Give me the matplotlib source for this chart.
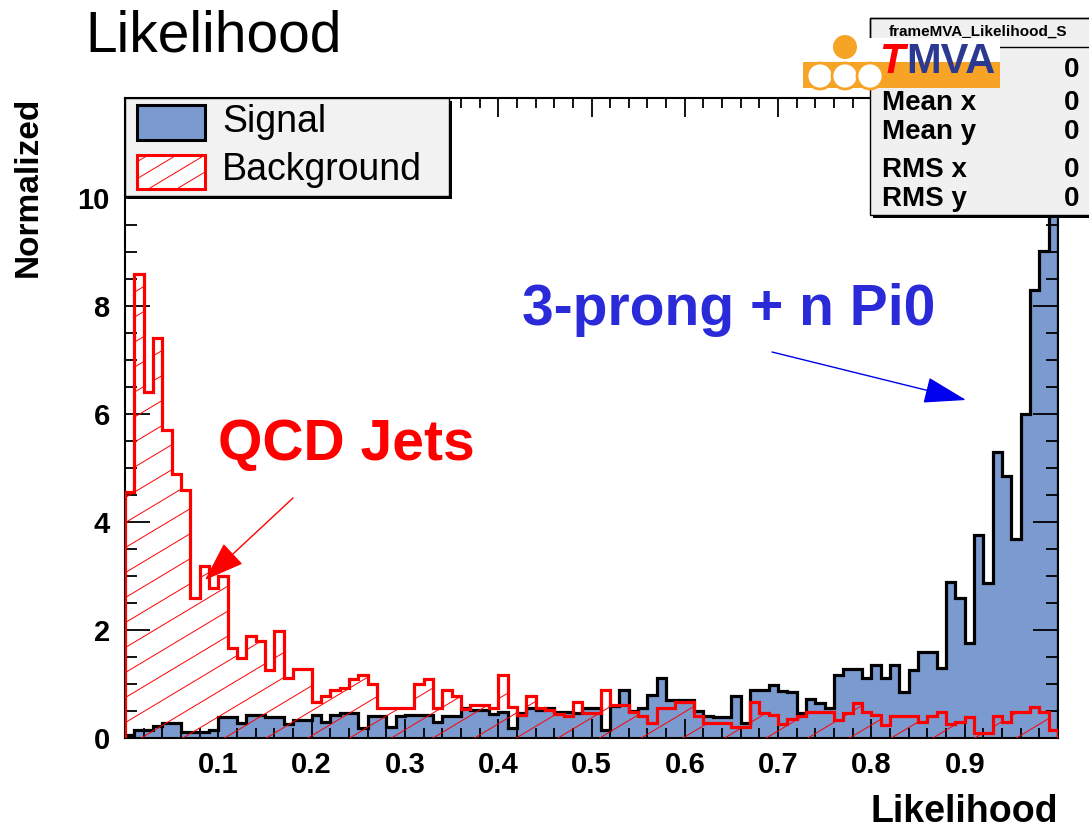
import numpy as np
import matplotlib
matplotlib.use("Agg")
import matplotlib.pyplot as plt
from matplotlib.patches import Rectangle, Circle
from matplotlib.lines import Line2D
from matplotlib.transforms import IdentityTransform
from matplotlib.ticker import MultipleLocator, FixedLocator

# ---------------- data ----------------
bin_edges = np.linspace(0.0, 1.0, 101)

signal = [0.05, 0.15, 0.15, 0.22, 0.27, 0.27, 0.12, 0.12, 0.12, 0.15,
          0.38, 0.38, 0.27, 0.43, 0.43, 0.38, 0.38, 0.25, 0.33, 0.33,
          0.43, 0.30, 0.43, 0.46, 0.46, 0.18, 0.40, 0.40, 0.20, 0.40,
          0.43, 0.43, 0.43, 0.30, 0.40, 0.40, 0.55, 0.52, 0.52, 0.45,
          0.49, 0.18, 0.46, 0.55, 0.52, 0.55, 0.49, 0.49, 0.46, 0.55,
          0.55, 0.15, 0.60, 0.89, 0.50, 0.55, 0.80, 1.11, 0.70, 0.70,
          0.70, 0.50, 0.40, 0.38, 0.38, 0.78, 0.27, 0.89, 0.89, 0.98,
          0.87, 0.85, 0.46, 0.73, 0.65, 0.56, 1.17, 1.27, 1.27, 1.11,
          1.35, 1.11, 1.35, 0.86, 1.26, 1.60, 1.60, 1.29, 2.88, 2.59,
          1.76, 3.75, 2.87, 5.30, 4.86, 3.69, 5.99, 8.30, 9.02, 10.6]

background = [4.55, 8.59, 6.40, 7.41, 5.70, 4.88, 4.60, 2.59, 3.19, 2.78,
              3.00, 1.66, 1.48, 1.88, 1.79, 1.25, 1.98, 1.11, 1.27, 1.27,
              0.66, 0.77, 0.89, 0.92, 1.09, 1.17, 1.00, 0.55, 0.55, 0.55,
              0.55, 1.00, 1.09, 0.55, 0.88, 0.77, 0.53, 0.62, 0.62, 0.55,
              1.17, 0.58, 0.42, 0.77, 0.55, 0.52, 0.45, 0.40, 0.66, 0.46,
              0.46, 0.88, 0.62, 0.62, 0.49, 0.40, 0.27, 0.55, 0.55, 0.67,
              0.67, 0.40, 0.27, 0.27, 0.27, 0.21, 0.21, 0.67, 0.46, 0.43,
              0.26, 0.36, 0.40, 0.49, 0.49, 0.49, 0.33, 0.46, 0.65, 0.49,
              0.43, 0.24, 0.40, 0.40, 0.40, 0.30, 0.40, 0.49, 0.26, 0.30,
              0.39, 0.09, 0.09, 0.40, 0.30, 0.49, 0.49, 0.58, 0.49, 0.15]

x_major_ticks = [0.1, 0.2, 0.3, 0.4, 0.5, 0.6, 0.7, 0.8, 0.9]
x_tick_labels = ["0.1", "0.2", "0.3", "0.4", "0.5", "0.6", "0.7", "0.8", "0.9"]
y_major_ticks = [0, 2, 4, 6, 8, 10]

stats_labels = ["", "Mean x", "Mean y", "RMS x", "RMS y"]
stats_values = ["0", "0", "0", "0", "0"]

# ---------------- style ----------------
W, H = 1089, 830
plt.rcParams['font.family'] = ['Liberation Sans', 'DejaVu Sans']

SIG_FILL = '#7a9ad0'
RED = '#ff0000'
BLUE_TXT = '#2a2ad8'
ORANGE = '#f7a325'


def fx(x):
    return x / W


def fy(y):
    return 1 - y / H


def prect(x0, y0, x1, y1, **kw):
    return Rectangle((x0, H - y1), x1 - x0, y1 - y0, transform=IdentityTransform(), **kw)


def hatch_lines(target, clip_patch, x0, x1, y_top, y_bot, spacing, slope, lw, zorder):
    """ROOT-like diagonal hatching (pixel coords), clipped to a patch."""
    ylo, yhi = H - y_bot, H - y_top
    c = ylo - slope * x1 - spacing
    while c < yhi + spacing:
        ln = Line2D([x0, x1], [slope * x0 + c, slope * x1 + c], color=RED,
                    linewidth=lw, transform=IdentityTransform(), zorder=zorder)
        ln.set_clip_path(clip_patch)
        target.add_artist(ln)
        c += spacing


fig = plt.figure(figsize=(W / 100, H / 100), dpi=100)
fig.patch.set_facecolor('white')
ax = fig.add_axes([fx(125), fy(738), 933 / W, 640 / H])

# histograms
ax.stairs(signal, bin_edges, fill=True, facecolor=SIG_FILL, edgecolor='none', zorder=1)
ax.stairs(signal, bin_edges, baseline=0, color='black', linewidth=2.3, zorder=2)
bg_area = ax.stairs(background, bin_edges, fill=True, facecolor='none',
                    edgecolor='none', linewidth=0, zorder=3)
ax.stairs(background, bin_edges, baseline=0, color=RED, linewidth=2.3, zorder=4)

ax.set_xlim(0, 1)
ax.set_ylim(0, 11.85)

ax.xaxis.set_major_locator(FixedLocator(x_major_ticks))
ax.set_xticklabels(x_tick_labels)
ax.xaxis.set_minor_locator(MultipleLocator(0.02))
ax.yaxis.set_major_locator(FixedLocator(y_major_ticks))
ax.yaxis.set_minor_locator(MultipleLocator(0.5))

ax.tick_params(axis='both', which='both', direction='in', top=True, right=True, width=1.3)
ax.tick_params(axis='x', which='major', length=14, pad=9)
ax.tick_params(axis='x', which='minor', length=7)
ax.tick_params(axis='y', which='major', length=18, pad=11)
ax.tick_params(axis='y', which='minor', length=8.5)
for lab in ax.get_xticklabels() + ax.get_yticklabels():
    lab.set_fontweight('bold')
    lab.set_fontsize(21)
for sp in ax.spines.values():
    sp.set_linewidth(1.5)

# hatching of the background histogram
hatch_lines(ax, bg_area, 125, 1058, 98, 738, 25, 0.6, 0.7, 3.5)

# axis titles
fig.text(fx(28), fy(97), 'Normalized', rotation=90, ha='center', va='top',
         fontsize=24, fontweight='bold')
fig.text(fx(1058), fy(812), 'Likelihood', ha='right', va='center',
         fontsize=27, fontweight='bold')
fig.text(fx(85), fy(36), 'Likelihood', ha='left', va='center', fontsize=41)

# legend box
fig.add_artist(prect(128, 101, 452, 199, facecolor='black', edgecolor='none', zorder=5))
fig.add_artist(prect(125, 98, 449, 196, facecolor='#f2f2f2', edgecolor='black',
                     linewidth=1.0, zorder=6))
fig.add_artist(prect(137, 105, 205, 140, facecolor=SIG_FILL, edgecolor='black',
                     linewidth=2.2, zorder=7))
leg_bg = prect(137, 155, 205, 189, facecolor='white', edgecolor='none', zorder=7)
fig.add_artist(leg_bg)
hatch_lines(fig, leg_bg, 137, 205, 155, 189, 17, 0.6, 0.7, 7.5)
fig.add_artist(prect(137, 155, 205, 189, facecolor='none', edgecolor=RED,
                     linewidth=2.2, zorder=8))
fig.text(fx(222), fy(122), 'Signal', ha='left', va='center', fontsize=27, zorder=8)
fig.text(fx(222), fy(170), 'Background', ha='left', va='center', fontsize=27, zorder=8)

# stats box
fig.add_artist(prect(873, 21, 1100, 218, facecolor='black', edgecolor='none', zorder=5))
fig.add_artist(prect(870, 18, 1100, 215, facecolor='#f0f0f0', edgecolor='black',
                     linewidth=1.0, zorder=6))
fig.add_artist(prect(870, 18, 1100, 47, facecolor='none', edgecolor='black',
                     linewidth=1.0, zorder=6))
fig.text(fx(978), fy(32), 'frameMVA_Likelihood_S', ha='center', va='center',
         fontsize=11, fontweight='bold', zorder=7)
row_y = [70, 103, 132, 170, 199]
for lab, val, yy in zip(stats_labels, stats_values, row_y):
    if lab:
        fig.text(fx(882), fy(yy), lab, ha='left', va='center', fontsize=20,
                 fontweight='bold', zorder=7)
    fig.text(fx(1079), fy(yy), val, ha='right', va='center', fontsize=20,
             fontweight='bold', zorder=7)

# TMVA logo
fig.add_artist(prect(803, 38, 1000, 88, facecolor='white', edgecolor='none', zorder=9))
fig.add_artist(prect(803, 62, 1000, 88, facecolor=ORANGE, edgecolor='none', zorder=10))
fig.add_artist(Circle((845, H - 47), 12, transform=IdentityTransform(),
                      facecolor=ORANGE, edgecolor='none', zorder=10))
for cx in (820, 845, 870):
    fig.add_artist(Circle((cx, H - 76), 13, transform=IdentityTransform(),
                          facecolor='white', edgecolor=ORANGE, linewidth=2, zorder=11))
fig.text(fx(879), fy(62), 'T', ha='left', va='center', fontsize=30,
         fontweight='bold', fontstyle='italic', color=RED, zorder=12)
fig.text(fx(906), fy(62), 'MVA', ha='left', va='center', fontsize=30,
         fontweight='bold', color='#2b3990', zorder=12)

# annotations
fig.text(fx(218), fy(445), 'QCD Jets', ha='left', va='center', fontsize=41,
         fontweight='bold', color=RED)
fig.text(fx(522), fy(310), '3-prong + n Pi0', ha='left', va='center', fontsize=41,
         fontweight='bold', color=BLUE_TXT)
ax.annotate('', xy=(fx(205), fy(580)), xycoords='figure fraction',
            xytext=(fx(293), fy(498)), textcoords='figure fraction',
            arrowprops=dict(arrowstyle='-|>,head_length=0.85,head_width=0.3',
                            mutation_scale=30, color=RED, lw=1.0,
                            shrinkA=0, shrinkB=0))
ax.annotate('', xy=(fx(966), fy(400)), xycoords='figure fraction',
            xytext=(fx(772), fy(352)), textcoords='figure fraction',
            arrowprops=dict(arrowstyle='-|>,head_length=0.9,head_width=0.28',
                            mutation_scale=30, color='#0000ee', lw=1.0,
                            shrinkA=0, shrinkB=0))

fig.savefig('out.png', dpi=100)
